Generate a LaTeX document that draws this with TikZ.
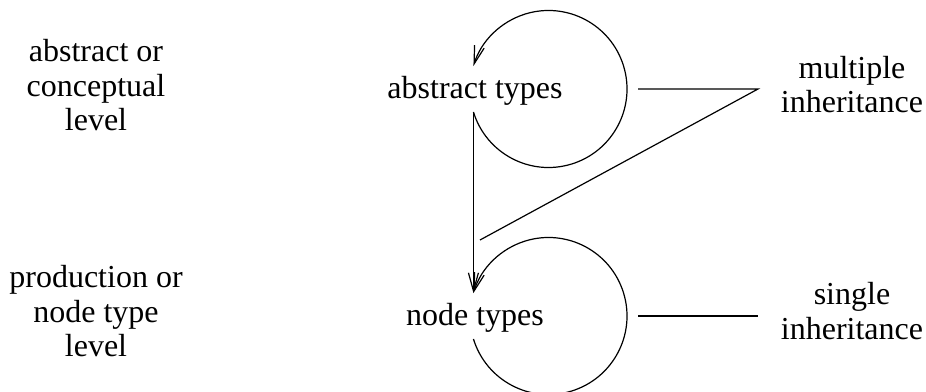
\documentclass[tikz,border=0pt]{standalone}
\usepackage{fontspec}
\setmainfont{Liberation Serif}
\usetikzlibrary{arrows.meta}
\tikzstyle{txt} = [align=center, inner sep=0pt, font=\fontsize{16}{17.25}\selectfont]

\begin{document}
\begin{tikzpicture}[x=0.5pt, y=0.5pt, line width=0.6pt, >={Straight Barb[length=9pt,width=5pt]}]
   \useasboundingbox (0,0) rectangle (926,391);
   % levels
   \node[txt] (la) at (96,305.5) {abstract or\\conceptual\\level};
   \node[txt] (lb) at (96,79.5)  {production or\\node type\\level};
   % types
   \node[txt] (a) at (475,300) {abstract types};
   \node[txt] (b) at (475,73)  {node types};
   % kinds of inheritance
   \node[txt] (m) at (852,306.5) {multiple\\inheritance};
   \node[txt] (s) at (852,80)  {single\\inheritance};
   % loop centres and ends
   \coordinate (ac) at (548.5,302);
   \coordinate (bc) at (548.5,75);
   \coordinate (a1) at ([shift={(-163:78.5)}]ac);
   \coordinate (b1) at ([shift={(-163:78.5)}]bc);
   \coordinate (b2) at ([shift={(163:78.5)}]bc);
   \coordinate (mr) at (638,302);
   \coordinate (mj) at (758,302);
   \coordinate (md) at (480,151);
   \coordinate (sr) at (638,75);
   \coordinate (sj) at (758,75);
   \draw[->] (a1) arc[start angle=-163, end angle=163, radius=78.5];
   \draw[->] (b1) arc[start angle=-163, end angle=163, radius=78.5];
   \draw[->] (a1) -- (b2);
   \draw (mr) -- (mj) -- (md);
   \draw (sr) -- (sj);
  \end{tikzpicture}
\end{document}
